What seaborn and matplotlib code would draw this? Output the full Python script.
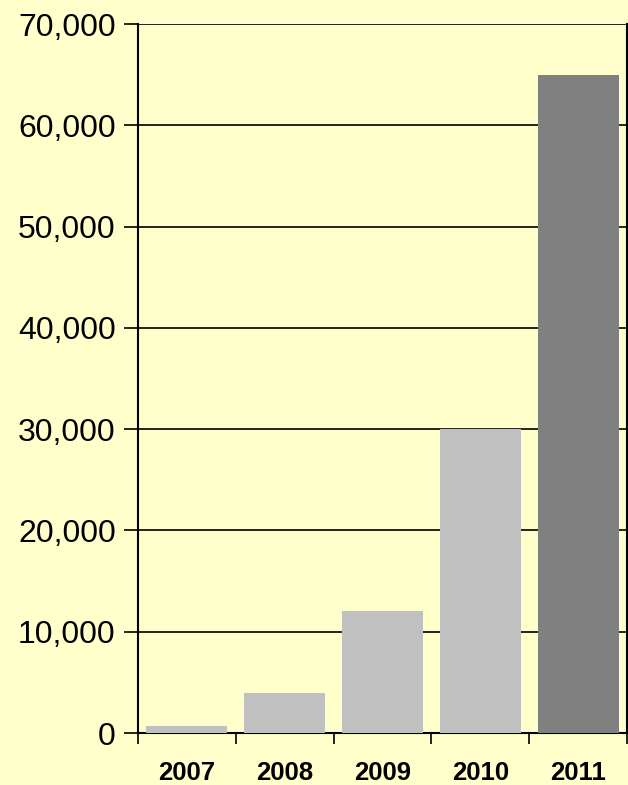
import matplotlib
matplotlib.use('Agg')
import matplotlib.pyplot as plt
from matplotlib.ticker import FuncFormatter, FixedLocator
import seaborn as sns
import pandas as pd

years  = ['2007', '2008', '2009', '2010', '2011']
values = [700, 4000, 12000, 30000, 65000]
colors = ['#C0C0C0', '#C0C0C0', '#C0C0C0', '#C0C0C0', '#808080']
yticks = [0, 10000, 20000, 30000, 40000, 50000, 60000, 70000]

BG = '#FFFFCC'

sns.set_style('white')
plt.rcParams['font.family'] = ['Liberation Sans', 'DejaVu Sans']
plt.rcParams['text.color'] = 'black'
plt.rcParams['xtick.color'] = 'black'
plt.rcParams['ytick.color'] = 'black'

df = pd.DataFrame({'year': years, 'value': values})

fig = plt.figure(figsize=(6.28, 7.85), dpi=100, facecolor=BG)
ax = fig.add_axes([0.2197, 0.0662, 0.7788, 0.9032])
ax.set_facecolor(BG)

sns.barplot(data=df, x='year', y='value', hue='year', palette=colors,
            width=0.83, legend=False, saturation=1, linewidth=0,
            ax=ax, zorder=3)

ax.set_ylim(0, 70000)
ax.set_xlim(-0.5, 4.5)
ax.set_yticks(yticks)
ax.yaxis.set_major_formatter(FuncFormatter(lambda v, p: f'{int(v):,}'))
ax.grid(axis='y', color='black', linewidth=1.2, zorder=1)
ax.set_axisbelow(True)

for s in ['left', 'bottom', 'right']:
    ax.spines[s].set_visible(True)
    ax.spines[s].set_color('black')
    ax.spines[s].set_linewidth(1.5)
ax.spines['top'].set_visible(False)

ax.tick_params(axis='y', direction='out', length=10, width=1.2, color='black',
               labelcolor='black', labelsize=23, pad=6, left=True)
ax.tick_params(axis='x', which='major', length=0, labelsize=18.5,
               labelcolor='black', pad=20)
ax.xaxis.set_minor_locator(FixedLocator([-0.5, 0.5, 1.5, 2.5, 3.5, 4.5]))
ax.tick_params(axis='x', which='minor', direction='out', length=8, width=1.2,
               color='black', bottom=True)
for lbl in ax.get_xticklabels():
    lbl.set_fontweight('bold')

ax.set_xlabel('')
ax.set_ylabel('')

fig.savefig('out.png', dpi=100, facecolor=BG)
